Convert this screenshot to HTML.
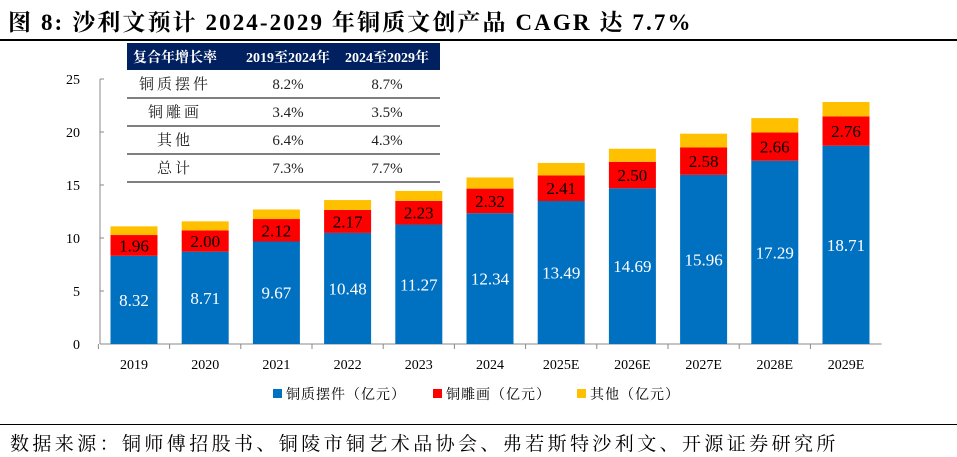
<!DOCTYPE html>
<html><head><meta charset="utf-8"><style>
body{margin:0;background:#fff;width:957px;height:457px;overflow:hidden;position:relative;font-family:"Liberation Serif","Noto Serif CJK SC",serif}
.t{position:absolute;white-space:nowrap}
</style></head><body>
<div class="t" style="left:8px;top:4px;font-size:23px;font-weight:bold;color:#000;font-family:'Liberation Serif','Noto Serif CJK SC',serif;letter-spacing:2.1px">图 8:  沙利文预计 2024-2029 年铜质文创产品 CAGR 达 7.7%</div>
<div class="t" style="left:0;top:39px;width:957px;height:1.5px;background:#000"></div>
<svg class="t" style="left:0;top:0" width="957" height="457" id="c"></svg>
<div class="t" style="left:0;top:424px;width:957px;height:1px;background:#000"></div>
<div class="t" style="left:10px;top:429px;font-size:19px;letter-spacing:3.4px;font-family:'Liberation Serif','Noto Serif CJK SC',serif;">数据来源：铜师傅招股书、铜陵市铜艺术品协会、弗若斯特沙利文、开源证券研究所</div>
<script>
const categories=["2019","2020","2021","2022","2023","2024","2025E","2026E","2027E","2028E","2029E"];
const copperOrnaments=[8.32,8.71,9.67,10.48,11.27,12.34,13.49,14.69,15.96,17.29,18.71];
const copperPaintings=[1.96,2.00,2.12,2.17,2.23,2.32,2.41,2.50,2.58,2.66,2.76];
const others=[0.82,0.86,0.90,0.93,0.94,1.05,1.18,1.23,1.30,1.36,1.36];
const yTicks=[0,5,10,15,20,25];
const tableHeader=["复合年增长率","2019至2024年","2024至2029年"];
const tableRows=[["铜质摆件","8.2%","8.7%"],["铜雕画","3.4%","3.5%"],["其他","6.4%","4.3%"],["总计","7.3%","7.7%"]];
const svg=document.getElementById('c');const NS="http://www.w3.org/2000/svg";
function mk(t,a,txt){const e=document.createElementNS(NS,t);for(const k in a)e.setAttribute(k,a[k]);if(txt!==undefined)e.textContent=txt;svg.appendChild(e);return e;}
const y0=344,pu=10.6,x0=134,step=71.2,bw=47;
const Y=v=>y0-v*pu, X=i=>x0+i*step;
let e=mk('line',{x1:100,y1:Y(25),x2:100,y2:y0,stroke:'#888','stroke-width':1});

e=mk('line',{x1:100,y1:y0,x2:X(10)+step/2,y2:y0,stroke:'#888','stroke-width':1});

yTicks.forEach(v=>{
 let l=mk('line',{x1:100,y1:Y(v),x2:104,y2:Y(v),stroke:'#888'});
 
 let t=mk('text',{x:80,y:Y(v)+5,'text-anchor':'end','font-size':14,fill:'#000'},String(v));
 
});
categories.forEach((c,i)=>{
 const cx=X(i);
 let l=mk('line',{x1:cx-step/2,y1:y0,x2:cx-step/2,y2:y0+5,stroke:'#888'});
 
 const b=copperOrnaments[i],r=copperPaintings[i],o=others[i];
 let rb=mk('rect',{x:cx-bw/2,y:Y(b),width:bw,height:b*pu,fill:'#0070c0'});
 
 let rr=mk('rect',{x:cx-bw/2,y:Y(b+r),width:bw,height:r*pu,fill:'#ff0000'});
 
 let ro=mk('rect',{x:cx-bw/2,y:Y(b+r+o),width:bw,height:o*pu,fill:'#ffc000'});
 
 let t1=mk('text',{x:cx,y:Y(b/2)+6,'text-anchor':'middle','font-size':17,fill:'#fff'},b.toFixed(2));
 
 let t2=mk('text',{x:cx,y:Y(b+r/2)+6,'text-anchor':'middle','font-size':17,fill:'#000'},r.toFixed(2));
 
 let t3=mk('text',{x:cx,y:y0+25,'text-anchor':'middle','font-size':14,fill:'#000'},c);
 
});
let hb=mk('rect',{x:127,y:43,width:313,height:27,fill:'#002060'});

const cols=[175,288,387];
tableHeader.forEach((h,j)=>{let t=mk('text',{x:cols[j],y:62,'text-anchor':'middle','font-size':14,'font-weight':'bold',fill:'#fff'},h);
 });
tableRows.forEach((row,i)=>{
 const ry=70+i*28;
 row.forEach((v,j)=>{let t=mk('text',{x:cols[j],y:ry+19,'text-anchor':'middle','font-size':15,fill:'#222',style:j==0?'letter-spacing:3px':''},v);
  });
 let l=mk('line',{x1:127,y1:ry+28,x2:440,y2:ry+28,stroke:'#000','stroke-width':1});
 
});
const leg=[["铜质摆件（亿元）",'#0070c0',273],["铜雕画（亿元）",'#ff0000',433],["其他（亿元）",'#ffc000',577]];
leg.forEach(([n,col,lx])=>{
 let r=mk('rect',{x:lx,y:389,width:9,height:9,fill:col});
 
 let t=mk('text',{x:lx+13,y:399,'font-size':14,fill:'#000','font-family':"'Liberation Serif','Noto Serif CJK SC',serif",'letter-spacing':1},n);
 
});
</script>
</body></html>
